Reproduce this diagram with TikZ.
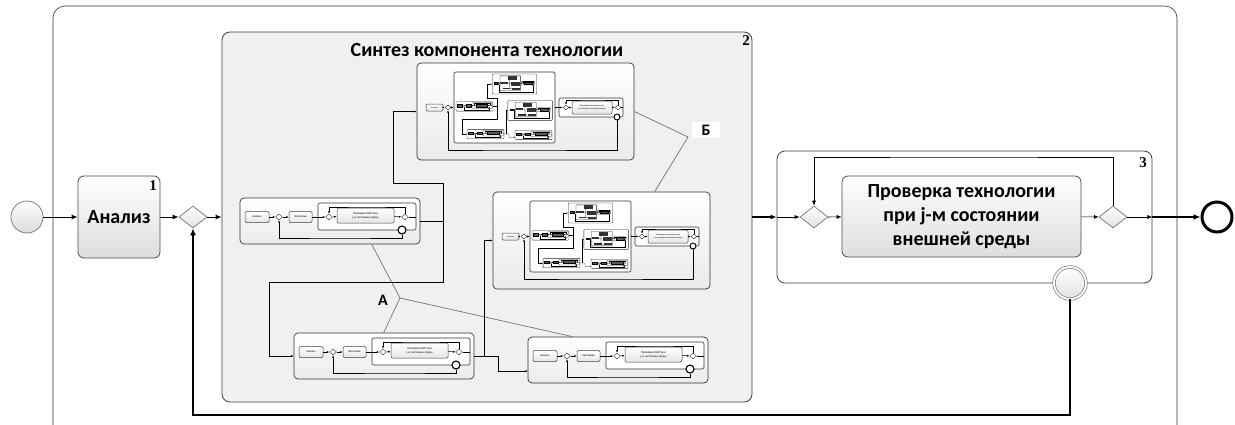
\documentclass[tikz,border=0pt]{standalone}
\usepackage{fontspec}
\setmainfont{Carlito}
\newfontfamily\numfont{Liberation Serif}
\usetikzlibrary{arrows.meta,shapes.geometric}

% texts of the small nested processes
\newcommand\lvl{}
\newcommand\txtAn{Анализ}
\newcommand\txtZag{Заготовка}
\newcommand\txtChkA{Проверка НШТ при\\j-м состоянии среды}
\newcommand\txtChkB{Проверка технологии при\\j-м состоянии внешней среды}

\tikzset{
  pool/.style={draw=black!80, line width=0.6pt, rounded corners=12pt},
  evstart/.style={circle, draw=black!55, line width=0.7pt, top color=white, bottom color=black!14, minimum size=32pt, inner sep=0pt},
  evend/.style={circle, draw=black, line width=3pt, fill=white, minimum size=30pt, inner sep=0pt},
  evbound/.style={circle, draw=black!60, line width=0.6pt, double=white, double distance=2pt, top color=white, bottom color=black!12, minimum size=32pt, inner sep=0pt},
  bigtask/.style={draw=black!70, line width=0.8pt, rounded corners=6pt, top color=white, bottom color=black!13, font=\bfseries\fontsize{20}{24}\selectfont, align=center, inner sep=0pt},
  bigbox/.style={draw=black!75, line width=0.8pt, rounded corners=8pt, fill=black!6, inner sep=0pt},
  plainbox/.style={draw=black!75, line width=0.8pt, rounded corners=8pt, fill=white, inner sep=0pt},
  gw/.style={diamond, draw=black!60, line width=0.6pt, top color=white, bottom color=black!12, minimum width=28pt, minimum height=22pt, inner sep=0pt},
  flow/.style={line width=1pt, -{Latex[length=6pt,width=5pt]}},
  thinflow/.style={line width=0.6pt, -{Latex[length=5pt,width=4pt]}},
  annot/.style={draw=black!55, line width=0.7pt},
  numlbl/.style={font=\numfont\bfseries\fontsize{15}{15}\selectfont, inner sep=0pt},
  ttl/.style={font=\bfseries\fontsize{20}{24}\selectfont, inner sep=0pt},
  lbl/.style={font=\bfseries\fontsize{16}{16}\selectfont, inner sep=0pt},
  % small nested processes
  mbox/.style={draw=black!80, line width=0.7pt, rounded corners=4pt, top color=white, bottom color=black!8, inner sep=0pt},
  msub/.style={draw=black!80, line width=0.6pt, rounded corners=2pt, fill=white, inner sep=0pt},
  mtask/.style={draw=black!75, line width=0.5pt, rounded corners=1.2pt, top color=white, bottom color=black!10, inner sep=0pt, align=center, font=\fontsize{3}{3.6}\selectfont},
  mgw/.style={diamond, draw=black!80, line width=0.4pt, fill=white, minimum width=7pt, minimum height=6pt, inner sep=0pt},
  mgwB/.style={diamond, draw=black!80, line width=0.4pt, fill=white, minimum width=6pt, minimum height=5pt, inner sep=0pt},
  mend/.style={circle, draw=black, line width=1.1pt, fill=white, minimum size=8pt, inner sep=0pt},
  mendB/.style={circle, draw=black, line width=0.9pt, fill=white, minimum size=6pt, inner sep=0pt},
  mflow/.style={line width=0.5pt, -{Latex[length=2.5pt,width=2pt]}},
  mline/.style={line width=0.5pt},
  lvlthree/.style={
    mbox/.style={draw=black!85, line width=0.3pt, rounded corners=0.8pt, fill=white, inner sep=0pt},
    msub/.style={draw=black!85, line width=0.3pt, rounded corners=0.4pt, fill=white, inner sep=0pt},
    mtask/.style={draw=black, line width=0.25pt, fill=black!65, inner sep=0pt},
    mgw/.append style={line width=0.2pt},
    mgwB/.append style={line width=0.2pt},
    mend/.style={circle, draw=black, line width=0.4pt, fill=white, minimum size=8pt, inner sep=0pt},
    mendB/.style={circle, draw=black, line width=0.3pt, fill=white, minimum size=6pt, inner sep=0pt},
    mflow/.style={line width=0.3pt, -{Latex[length=1pt,width=1pt]}},
    mline/.style={line width=0.3pt}
  }
}

% process: analysis -> preparation -> check with loop (local box 180 x 46)
\newcommand\procA{%
  \node[mbox, minimum width=180, minimum height=46] (box) at (90,23) {};
  \node[msub, minimum width=98, minimum height=27] (sub) at (127,18.5) {};
  \node[mtask, minimum width=24, minimum height=11] (t1) at (17,19) {\txtAn};
  \node[mgw] (g1) at (39,19) {};
  \node[mtask, minimum width=23, minimum height=11] (t2) at (60.5,19) {\txtZag};
  \node[mgw] (g2) at (89,19) {};
  \node[mtask, minimum width=57, minimum height=15] (t3) at (125.5,17.5) {\txtChkA};
  \node[mgw] (g3) at (165,19) {};
  \node[mend] (c) at (162,32) {};
  \draw[mflow] (t1) -- (g1);
  \draw[mflow] (g1) -- (t2);
  \draw[mflow] (t2) -- (g2);
  \draw[mflow] (g2) -- (t3);
  \draw[mflow] (t3) -- (g3);
  \draw[mline] (g3) -- (sub.east |- g3);
  \draw[mflow] (g3.north) |- (127,9) -| (g2.north);
  \draw[mflow] (c.south) |- (100,40) -| (g1.south);
}

% process with nested synthesis block (local box 217 x 97); #1 fills the block
\newcommand\procB[1]{%
  \node[mbox, minimum width=217, minimum height=97] (box) at (108.5,48.5) {};
  \node[msub, minimum width=101, minimum height=71] (subL) at (87.5,44.5) {};
  #1%
  \node[msub, minimum width=64, minimum height=19] (subR) at (174,44.5) {};
  \node[mtask, minimum width=17, minimum height=7, font=\fontsize{2.2}{2.6}\selectfont] (t1) at (17.5,44.5) {\txtAn};
  \node[mgwB] (g1) at (31,44.5) {};
  \node[mgwB] (g2) at (149,44.5) {};
  \node[mtask, minimum width=40, minimum height=13, font=\fontsize{2.2}{2.8}\selectfont] (t2) at (175,44.5) {\txtChkB};
  \node[mgwB] (g3) at (201,44.5) {};
  \node[mendB] (c) at (200,54) {};
  \draw[mflow] (t1) -- (g1);
  \draw[mflow] (g1) -- (subL);
  \draw[mflow] (subL) -- (g2);
  \draw[mflow] (g2) -- (t2);
  \draw[mflow] (t2) -- (g3);
  \draw[mline] (g3) -- (subR.east);
  \draw[mflow] (g3.north) |- (175,37) -| (g2.north);
  \draw[mflow] (c.south) |- (100,87) -| (g1.south);
}

% contents of a synthesis block
\newcommand\contentB[1]{%
  \begin{scope}[shift={(5,140)}, name prefix=\lvl A1-]\procA\end{scope}
  \begin{scope}[shift={(182,5)}, name prefix=\lvl T-]\procB{#1}\end{scope}
  \begin{scope}[shift={(258,134)}, name prefix=\lvl M-]\procB{#1}\end{scope}
  \begin{scope}[shift={(59,275)}, name prefix=\lvl A2-]\procA\end{scope}
  \begin{scope}[shift={(293,279)}, name prefix=\lvl A3-]\procA\end{scope}
  \coordinate (\lvl j1) at (208,163);
  \coordinate (\lvl j2) at (249,298);
  \coordinate (\lvl a3in) at (293,313);
  \draw[mline] (\lvl A1-box.east) -- (\lvl j1);
  \draw[mflow] (\lvl j1) |- (158,125) |- (\lvl T-box.west);
  \draw[mflow] (\lvl j1) |- (34,224) |- (\lvl A2-box.west);
  \draw[mflow] (\lvl A2-box.east) -| (263,313) -- (\lvl a3in);
  \draw[mflow] (\lvl j2) |- (\lvl M-box.west);
}

% deepest level: the five processes only as dark bars
\newcommand\blobfill{%
  \fill[black!80] (39,39) rectangle (76,48);
  \fill[black!80] (75,12) rectangle (119,31);
  \fill[black!80] (91,38) rectangle (135,57);
  \fill[black!80] (50,66) rectangle (87,75);
  \fill[black!80] (98,67) rectangle (135,76);
  \draw[black, line width=0.2pt] (77,44) -- (83,44) |- (75,22) (83,44) |- (91,47) (83,44) |- (50,70) (87,70) -- (98,72);}

\newcommand\levelthree{%
  \begin{scope}[shift={(38,10)}, scale=0.205, transform shape, name prefix=, lvlthree]
    \def\lvl{s}\def\txtAn{}\def\txtZag{}\def\txtChkA{}\def\txtChkB{}%
    \contentB{\blobfill}%
  \end{scope}}

\begin{document}
\begin{tikzpicture}[x=1pt,y=-1pt]
\useasboundingbox (0,0) rectangle (1235,424);
\clip (0,0) rectangle (1235,424);
\draw[pool] (53,6) rectangle (1177,440);

% start, analysis, first gateway
\node[evstart] (start) at (27,217) {};
\node[bigtask, minimum width=82, minimum height=82] (an) at (119,217) {Анализ};
\node[numlbl] (n1) at (153,186) {1};
\node[gw] (g1) at (193,217) {};

% synthesis block
\node[bigbox, minimum width=530, minimum height=370] (B2) at (487,217) {};
\node[ttl] (B2t) at (487,50) {Синтез компонента технологии};
\node[numlbl] (n2) at (746,41) {2};
\begin{scope}[shift={(235,58)}]
  \contentB{\levelthree}
\end{scope}

% group annotations
\coordinate (ja) at (400,298);
\coordinate (jb) at (688,137);
\draw[annot] ([xshift=132pt]A1-box.south west) -- (ja) -- ([xshift=90pt]A2-box.north west);
\draw[annot] (ja) -- ([xshift=45pt]A3-box.north west);
\node[lbl] (la) at (383,300) {А};
\draw[annot] (T-box.east) -- (jb) -- ([xshift=162pt]M-box.north west);
\node[lbl, fill=white, minimum width=28pt, minimum height=16pt] (lb) at (706,130) {Б};

% check block
\node[plainbox, minimum width=375, minimum height=132] (P3) at (964.5,217) {};
\node[numlbl] (n3) at (1143,163) {3};
\node[gw] (g3a) at (814,217) {};
\node[bigtask, minimum width=239, minimum height=81] (t3) at (961.5,216.5) {Проверка технологии\\при j-м состоянии\\внешней среды};
\node[gw] (g3b) at (1113,217) {};
\node[evbound] (bd) at (1070,283) {};
\node[evend] (end) at (1217,217) {};

% flows
\draw[flow] (start) -- (an);
\draw[flow] (an) -- (g1);
\draw[flow] (g1) -- (B2.west);
\draw[flow, line width=1.3pt] (B2.east) -- (P3.west);
\draw[thinflow] (P3.west) -- (g3a);
\draw[thinflow] (g3a) -- (t3);
\draw[thinflow] (t3) -- (g3b);
\draw[thinflow] (g3b) -- (P3.east);
\draw[thinflow] (g3b.north) |- (964,157) -| (g3a.north);
\draw[line width=1.5pt, -{Latex[length=7pt,width=6pt]}] (P3.east) -- (end);
\draw[line width=2pt, -{Latex[length=7pt,width=6pt]}] (bd.south) |- (600,415) -| (g1.south);
\end{tikzpicture}
\end{document}
